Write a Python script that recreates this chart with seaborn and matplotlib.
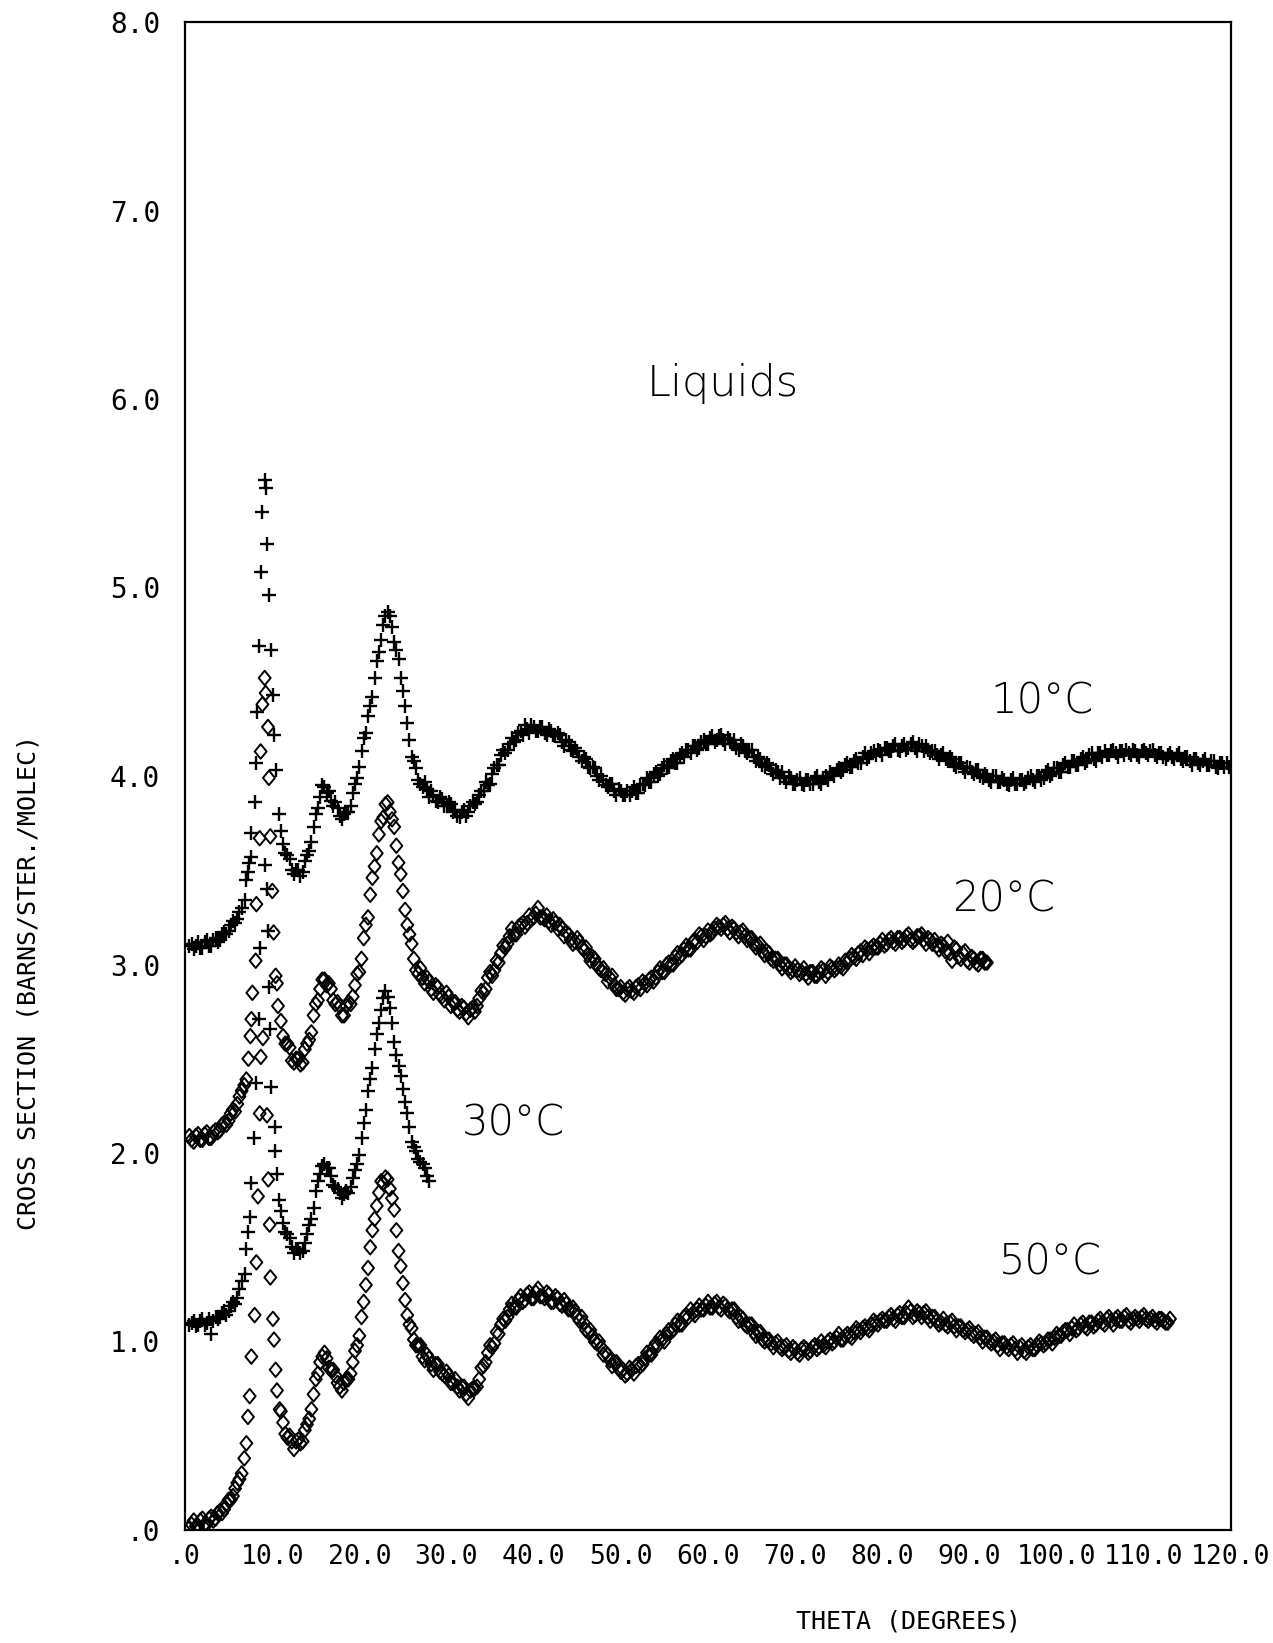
import numpy as np
import pandas as pd
import matplotlib
matplotlib.use("Agg")
import matplotlib.pyplot as plt
from matplotlib.path import Path
import seaborn as sns

# ---------------------------------------------------------------------------
# Neutron scattering cross sections of the liquid at four temperatures.
# Each curve is shifted upward by one unit (10 C: +3, 20 C: +2, 30 C: +1, 50 C: 0).
#   *_base : 0.5 .. 6.5 deg, 0.25 deg step
#   *_peak : individual points across the sharp low-angle peak
#   *_high : 11 deg .. end of run, 0.25 deg step
# ---------------------------------------------------------------------------

# ---- 10 C (plus markers) ----
cs_10_base = [3.10, 3.11, 3.08, 3.10, 3.12, 3.09, 3.09, 3.12, 3.13, 3.10, 3.10, 3.13, 3.14,
              3.12, 3.13, 3.16, 3.17, 3.16, 3.18, 3.21, 3.23, 3.22, 3.24, 3.28, 3.30]
theta_10_peak = [6.85, 7.04, 7.20, 7.35, 7.53, 7.61, 7.99, 8.11, 8.26, 8.45, 8.68, 8.88,
                 9.14, 9.25, 9.45, 9.63, 9.83, 10.09, 10.21, 10.48, 10.78]
cs_10_peak = [3.34, 3.45, 3.49, 3.54, 3.57, 3.70, 3.86, 4.07, 4.34, 4.69, 5.08, 5.40,
              5.57, 5.53, 5.23, 4.96, 4.67, 4.43, 4.22, 4.03, 3.80]
cs_10_high = [
    3.71, 3.64, 3.59, 3.58, 3.56, 3.50, 3.48, 3.50, 3.50, 3.47, 3.49, 3.55, 3.58, 3.60, 3.65, 3.73, 3.80, 3.83, 3.89, 3.95,
    3.94, 3.91, 3.92, 3.87, 3.84, 3.86, 3.83, 3.79, 3.77, 3.80, 3.81, 3.81, 3.84, 3.91, 3.96, 3.99, 4.05, 4.13, 4.20, 4.23,
    4.32, 4.37, 4.42, 4.52, 4.61, 4.66, 4.72, 4.80, 4.85, 4.87, 4.85, 4.79, 4.71, 4.67, 4.62, 4.52, 4.45, 4.37, 4.28, 4.19,
    4.10, 4.08, 4.04, 3.98, 3.96, 3.94, 3.97, 3.93, 3.89, 3.92, 3.90, 3.87, 3.86, 3.89, 3.88, 3.84, 3.84, 3.86, 3.85, 3.81,
    3.82, 3.79, 3.78, 3.81, 3.82, 3.79, 3.81, 3.84, 3.86, 3.85, 3.86, 3.90, 3.92, 3.92, 3.97, 3.95, 3.96, 4.01, 4.04, 4.06,
    4.06, 4.11, 4.14, 4.12, 4.14, 4.17, 4.20, 4.18, 4.19, 4.23, 4.24, 4.22, 4.27, 4.25, 4.23, 4.27, 4.26, 4.24, 4.24, 4.26,
    4.26, 4.23, 4.22, 4.25, 4.24, 4.22, 4.21, 4.23, 4.22, 4.18, 4.16, 4.19, 4.18, 4.14, 4.13, 4.15, 4.13, 4.10, 4.08, 4.10,
    4.09, 4.05, 4.04, 4.05, 4.04, 4.00, 3.98, 4.00, 3.98, 3.95, 3.94, 3.96, 3.96, 3.92, 3.90, 3.93, 3.92, 3.90, 3.90, 3.92,
    3.90, 3.92, 3.94, 3.91, 3.91, 3.95, 3.96, 3.95, 3.99, 3.97, 3.97, 4.01, 4.02, 4.00, 4.01, 4.04, 4.06, 4.04, 4.05, 4.08,
    4.09, 4.07, 4.07, 4.11, 4.12, 4.10, 4.14, 4.14, 4.12, 4.16, 4.16, 4.14, 4.15, 4.18, 4.19, 4.17, 4.17, 4.20, 4.21, 4.18,
    4.19, 4.21, 4.22, 4.19, 4.17, 4.20, 4.19, 4.17, 4.19, 4.15, 4.14, 4.17, 4.16, 4.13, 4.12, 4.14, 4.14, 4.10, 4.08, 4.10,
    4.09, 4.06, 4.05, 4.07, 4.06, 4.03, 4.01, 4.03, 4.02, 3.99, 4.02, 3.99, 3.97, 4.00, 3.99, 3.96, 3.96, 3.98, 3.99, 3.96,
    3.95, 3.98, 3.98, 3.96, 3.96, 3.99, 4.00, 3.97, 3.96, 3.99, 4.00, 3.98, 4.02, 4.01, 4.00, 4.03, 4.04, 4.02, 4.03, 4.06,
    4.07, 4.05, 4.05, 4.08, 4.09, 4.07, 4.07, 4.10, 4.12, 4.09, 4.10, 4.12, 4.13, 4.11, 4.14, 4.13, 4.11, 4.15, 4.15, 4.13,
    4.13, 4.16, 4.17, 4.14, 4.13, 4.16, 4.17, 4.14, 4.15, 4.17, 4.18, 4.15, 4.13, 4.17, 4.16, 4.13, 4.16, 4.14, 4.12, 4.13,
    4.13, 4.11, 4.09, 4.11, 4.12, 4.09, 4.08, 4.10, 4.09, 4.06, 4.05, 4.07, 4.07, 4.04, 4.02, 4.05, 4.04, 4.02, 4.01, 4.03,
    4.03, 4.00, 3.99, 4.01, 4.00, 3.98, 3.97, 4.00, 4.00, 3.97, 3.97, 3.99, 3.98, 3.96, 3.95, 3.98, 3.99, 3.96, 3.96, 3.98,
    3.98, 3.96, 3.97, 3.99, 4.00, 3.98, 3.97, 4.00, 4.00, 3.98, 3.99, 4.02, 4.03, 4.00, 4.01, 4.04, 4.04, 4.02, 4.02, 4.06,
    4.07, 4.05, 4.05, 4.08, 4.08, 4.06, 4.06, 4.09, 4.10, 4.07, 4.08, 4.11, 4.12, 4.09, 4.08, 4.12, 4.12, 4.10, 4.13, 4.11,
    4.11, 4.13, 4.14, 4.12, 4.10, 4.13, 4.13, 4.11, 4.14, 4.12, 4.11, 4.14, 4.13, 4.11, 4.10, 4.13, 4.14, 4.12, 4.11, 4.13,
    4.14, 4.11, 4.10, 4.12, 4.12, 4.10, 4.09, 4.11, 4.12, 4.10, 4.09, 4.11, 4.12, 4.09, 4.08, 4.10, 4.10, 4.08, 4.06, 4.09,
    4.09, 4.07, 4.06, 4.08, 4.09, 4.06, 4.06, 4.08, 4.08, 4.05, 4.04, 4.07, 4.07, 4.05, 4.07, 4.05, 4.04]

# ---- 20 C (diamond markers) ----
cs_20_base = [2.09, 2.07, 2.06, 2.09, 2.10, 2.07, 2.07, 2.10, 2.11, 2.08, 2.08, 2.11, 2.12,
              2.11, 2.12, 2.15, 2.16, 2.15, 2.17, 2.21, 2.23, 2.22, 2.26, 2.30, 2.33]
theta_20_peak = [6.80, 7.04, 7.27, 7.50, 7.61, 7.73, 8.11, 8.19, 8.57, 8.68, 8.88, 9.14,
                 9.25, 9.52, 9.63, 9.79, 10.02, 10.17, 10.40, 10.55, 10.67]
cs_20_peak = [2.36, 2.39, 2.50, 2.62, 2.71, 2.85, 3.02, 3.32, 3.67, 4.13, 4.38, 4.52,
              4.44, 4.26, 3.99, 3.68, 3.39, 3.17, 2.94, 2.90, 2.78]
cs_20_high = [
    2.70, 2.62, 2.58, 2.58, 2.56, 2.49, 2.48, 2.50, 2.50, 2.47, 2.48, 2.55, 2.58, 2.60, 2.64, 2.73, 2.79, 2.81, 2.87, 2.92,
    2.92, 2.89, 2.90, 2.87, 2.81, 2.79, 2.80, 2.78, 2.73, 2.73, 2.78, 2.80, 2.79, 2.83, 2.89, 2.95, 2.96, 3.03, 3.14, 3.21,
    3.25, 3.37, 3.46, 3.52, 3.59, 3.69, 3.76, 3.78, 3.85, 3.86, 3.81, 3.77, 3.73, 3.63, 3.54, 3.48, 3.39, 3.29, 3.21, 3.16,
    3.11, 3.03, 2.97, 2.95, 2.98, 2.93, 2.90, 2.93, 2.91, 2.87, 2.85, 2.89, 2.88, 2.84, 2.83, 2.81, 2.85, 2.83, 2.78, 2.80,
    2.80, 2.76, 2.75, 2.78, 2.77, 2.74, 2.72, 2.76, 2.77, 2.75, 2.78, 2.82, 2.86, 2.85, 2.87, 2.93, 2.96, 2.94, 2.97, 3.02,
    3.01, 3.06, 3.10, 3.09, 3.11, 3.15, 3.19, 3.16, 3.16, 3.20, 3.21, 3.22, 3.20, 3.22, 3.26, 3.24, 3.25, 3.27, 3.30, 3.25,
    3.25, 3.24, 3.26, 3.23, 3.21, 3.24, 3.22, 3.19, 3.21, 3.19, 3.15, 3.17, 3.16, 3.13, 3.11, 3.12, 3.14, 3.12, 3.09, 3.08,
    3.09, 3.05, 3.02, 3.04, 3.03, 3.00, 2.98, 2.97, 2.98, 2.95, 2.91, 2.93, 2.94, 2.89, 2.87, 2.87, 2.88, 2.85, 2.84, 2.87,
    2.88, 2.86, 2.85, 2.88, 2.89, 2.87, 2.91, 2.90, 2.89, 2.92, 2.93, 2.91, 2.93, 2.96, 2.98, 2.96, 2.96, 3.00, 3.01, 3.00,
    3.00, 3.04, 3.06, 3.04, 3.05, 3.08, 3.10, 3.08, 3.08, 3.12, 3.13, 3.12, 3.16, 3.15, 3.13, 3.15, 3.18, 3.16, 3.17, 3.19,
    3.21, 3.20, 3.19, 3.21, 3.22, 3.19, 3.17, 3.20, 3.19, 3.17, 3.15, 3.17, 3.18, 3.15, 3.13, 3.14, 3.14, 3.11, 3.09, 3.10,
    3.11, 3.07, 3.05, 3.07, 3.06, 3.03, 3.02, 3.03, 3.03, 3.00, 2.98, 3.00, 3.00, 2.98, 2.96, 2.97, 2.99, 2.97, 2.95, 2.96,
    2.98, 2.95, 2.93, 2.96, 2.96, 2.94, 2.94, 2.96, 2.98, 2.97, 2.94, 2.96, 2.99, 2.98, 2.97, 2.98, 3.00, 2.99, 2.98, 3.02,
    3.01, 3.03, 3.05, 3.04, 3.03, 3.06, 3.07, 3.05, 3.09, 3.08, 3.06, 3.09, 3.10, 3.09, 3.09, 3.11, 3.13, 3.10, 3.11, 3.13,
    3.14, 3.12, 3.11, 3.14, 3.14, 3.12, 3.13, 3.15, 3.16, 3.13, 3.12, 3.13, 3.15, 3.15, 3.16, 3.13, 3.11, 3.14, 3.13, 3.11,
    3.13, 3.10, 3.08, 3.11, 3.10, 3.07, 3.12, 3.06, 3.02, 3.09, 3.08, 3.04, 3.03, 3.06, 3.07, 3.02, 3.01, 3.04, 3.03, 3.01,
    3.00, 3.03, 3.03, 3.01, 3.01]

# ---- 30 C (plus markers) ----
cs_30_base = [1.09, 1.10, 1.11, 1.08, 1.09, 1.11, 1.12, 1.09, 1.10, 1.12, 1.04, 1.11, 1.13,
              1.12, 1.13, 1.15, 1.16, 1.14, 1.16, 1.19, 1.21, 1.20, 1.23, 1.28, 1.32]
theta_30_peak = [6.85, 7.04, 7.22, 7.42, 7.61, 7.95, 8.20, 8.45, 8.57, 9.14, 9.40, 9.52,
                 9.60, 9.71, 9.91, 10.29, 10.37, 10.60, 10.75]
cs_30_peak = [1.36, 1.49, 1.58, 1.66, 1.84, 2.08, 2.37, 2.71, 3.09, 3.53, 3.40, 3.18,
              2.88, 2.66, 2.35, 2.14, 2.01, 1.89, 1.75]
cs_30_high = [
    1.69, 1.63, 1.58, 1.57, 1.55, 1.50, 1.47, 1.49, 1.49, 1.47, 1.48, 1.52, 1.57, 1.62, 1.65, 1.71, 1.80, 1.85, 1.89, 1.93,
    1.94, 1.92, 1.92, 1.88, 1.83, 1.82, 1.81, 1.79, 1.76, 1.78, 1.80, 1.79, 1.82, 1.87, 1.91, 1.94, 1.99, 2.08, 2.16, 2.23,
    2.33, 2.39, 2.45, 2.55, 2.63, 2.69, 2.76, 2.82, 2.86, 2.83, 2.77, 2.69, 2.59, 2.52, 2.46, 2.41, 2.34, 2.27, 2.21, 2.14,
    2.06, 2.03, 2.01, 1.97, 1.95, 1.94, 1.92, 1.88, 1.85]

# ---- 50 C (diamond markers) ----
cs_50_base = [0.01, 0.03, 0.05, 0.02, 0.02, 0.05, 0.06, 0.03, 0.03, 0.06, 0.07, 0.05, 0.06,
              0.09, 0.10, 0.09, 0.11, 0.14, 0.16, 0.16, 0.18, 0.22, 0.25, 0.27, 0.30]
theta_50_peak = [6.80, 7.04, 7.22, 7.42, 7.61, 7.99, 8.19, 8.37, 8.57, 8.70, 8.94, 9.40,
                 9.55, 9.71, 9.79, 10.09, 10.21, 10.40, 10.55, 10.86]
cs_50_peak = [0.38, 0.46, 0.60, 0.71, 0.92, 1.14, 1.42, 1.77, 2.21, 2.51, 2.61, 2.20,
              1.86, 1.62, 1.34, 1.12, 1.01, 0.85, 0.74, 0.64]
cs_50_high = [
    0.63, 0.57, 0.51, 0.49, 0.50, 0.47, 0.43, 0.47, 0.48, 0.46, 0.47, 0.53, 0.56, 0.59, 0.64, 0.72, 0.80, 0.83, 0.89, 0.92,
    0.94, 0.91, 0.86, 0.85, 0.85, 0.82, 0.78, 0.76, 0.74, 0.78, 0.80, 0.80, 0.83, 0.89, 0.95, 0.98, 1.03, 1.13, 1.21, 1.30,
    1.39, 1.50, 1.59, 1.65, 1.72, 1.79, 1.85, 1.84, 1.87, 1.86, 1.81, 1.76, 1.70, 1.59, 1.48, 1.40, 1.31, 1.22, 1.14, 1.09,
    1.07, 1.01, 0.98, 0.98, 0.98, 0.92, 0.90, 0.93, 0.91, 0.88, 0.85, 0.88, 0.88, 0.84, 0.83, 0.82, 0.84, 0.82, 0.78, 0.78,
    0.80, 0.76, 0.74, 0.76, 0.76, 0.72, 0.70, 0.74, 0.75, 0.75, 0.76, 0.80, 0.86, 0.87, 0.89, 0.94, 0.98, 0.97, 0.99, 1.05,
    1.04, 1.09, 1.12, 1.11, 1.13, 1.17, 1.20, 1.18, 1.18, 1.22, 1.24, 1.21, 1.22, 1.25, 1.26, 1.23, 1.23, 1.26, 1.28, 1.24,
    1.24, 1.23, 1.26, 1.25, 1.21, 1.21, 1.24, 1.23, 1.20, 1.19, 1.22, 1.20, 1.17, 1.17, 1.18, 1.16, 1.13, 1.11, 1.13, 1.10,
    1.06, 1.05, 1.06, 1.03, 1.00, 0.99, 1.00, 0.97, 0.93, 0.94, 0.93, 0.90, 0.87, 0.89, 0.89, 0.86, 0.84, 0.85, 0.82, 0.83,
    0.86, 0.85, 0.83, 0.87, 0.88, 0.87, 0.88, 0.91, 0.94, 0.93, 0.93, 0.97, 0.99, 0.98, 1.02, 1.01, 1.00, 1.04, 1.06, 1.05,
    1.06, 1.09, 1.11, 1.09, 1.09, 1.13, 1.14, 1.13, 1.17, 1.15, 1.14, 1.17, 1.19, 1.17, 1.17, 1.19, 1.21, 1.18, 1.18, 1.20,
    1.21, 1.18, 1.17, 1.20, 1.19, 1.17, 1.16, 1.17, 1.17, 1.13, 1.11, 1.13, 1.12, 1.09, 1.08, 1.09, 1.09, 1.05, 1.03, 1.05,
    1.05, 1.01, 1.00, 1.01, 1.01, 0.99, 0.97, 0.99, 1.00, 0.97, 0.96, 0.97, 0.98, 0.95, 0.94, 0.97, 0.96, 0.94, 0.93, 0.96,
    0.97, 0.96, 0.94, 0.95, 0.97, 0.98, 0.96, 0.97, 1.00, 0.98, 0.97, 1.00, 1.01, 0.99, 1.00, 1.02, 1.04, 1.01, 1.01, 1.03,
    1.04, 1.03, 1.02, 1.05, 1.07, 1.06, 1.05, 1.07, 1.08, 1.07, 1.06, 1.09, 1.11, 1.10, 1.09, 1.11, 1.12, 1.11, 1.11, 1.13,
    1.14, 1.12, 1.11, 1.14, 1.15, 1.13, 1.13, 1.15, 1.18, 1.16, 1.13, 1.14, 1.16, 1.15, 1.13, 1.15, 1.16, 1.13, 1.11, 1.13,
    1.13, 1.11, 1.09, 1.10, 1.12, 1.09, 1.08, 1.10, 1.11, 1.08, 1.06, 1.08, 1.08, 1.06, 1.05, 1.06, 1.07, 1.04, 1.03, 1.04,
    1.05, 1.02, 1.00, 1.02, 1.02, 1.00, 0.99, 1.00, 1.01, 0.98, 0.96, 0.99, 0.99, 0.97, 0.96, 0.98, 0.99, 0.96, 0.94, 0.97,
    0.98, 0.95, 0.94, 0.97, 0.98, 0.96, 0.96, 0.98, 1.00, 0.99, 0.98, 0.99, 1.01, 1.01, 0.99, 1.02, 1.04, 1.03, 1.03, 1.05,
    1.06, 1.06, 1.04, 1.07, 1.09, 1.06, 1.07, 1.09, 1.10, 1.08, 1.07, 1.10, 1.10, 1.08, 1.09, 1.11, 1.12, 1.10, 1.09, 1.12,
    1.13, 1.11, 1.09, 1.12, 1.13, 1.11, 1.11, 1.13, 1.14, 1.11, 1.10, 1.12, 1.13, 1.12, 1.11, 1.13, 1.14, 1.12, 1.11, 1.12,
    1.13, 1.11, 1.10, 1.12, 1.12, 1.11, 1.10, 1.10, 1.12]

# Last scan angle of each run
scan_end = {"10": 120.0, "20": 92.0, "30": 28.0, "50": 113.0}

x_ticks = [0, 10, 20, 30, 40, 50, 60, 70, 80, 90, 100, 110, 120]
x_tick_labels = [".0", "10.0", "20.0", "30.0", "40.0", "50.0", "60.0",
                 "70.0", "80.0", "90.0", "100.0", "110.0", "120.0"]
y_ticks = [0, 1, 2, 3, 4, 5, 6, 7, 8]
y_tick_labels = [".0", "1.0", "2.0", "3.0", "4.0", "5.0", "6.0", "7.0", "8.0"]

# curve labels: (text, theta, cross section)
curve_labels = [("10°C", 98.3, 4.40), ("20°C", 93.9, 3.35),
                ("30°C", 37.7, 2.16), ("50°C", 99.3, 1.42)]

STEP = 0.25


def run_frame(tag, cs_base, theta_peak, cs_peak, cs_high):
    theta_base = np.arange(0.5, 6.5 + STEP / 2, STEP)
    theta_high = np.arange(11.0, scan_end[tag] + STEP / 2, STEP)
    assert len(theta_base) == len(cs_base), (tag, "base", len(cs_base))
    assert len(theta_peak) == len(cs_peak), (tag, "peak")
    assert len(theta_high) == len(cs_high), (tag, len(theta_high), len(cs_high))
    return pd.DataFrame({
        "theta": np.concatenate([theta_base, theta_peak, theta_high]),
        "cross_section": np.concatenate([cs_base, cs_peak, cs_high]),
        "run": tag,
    })


data = pd.concat([
    run_frame("10", cs_10_base, theta_10_peak, cs_10_peak, cs_10_high),
    run_frame("20", cs_20_base, theta_20_peak, cs_20_peak, cs_20_high),
    run_frame("30", cs_30_base, theta_30_peak, cs_30_peak, cs_30_high),
    run_frame("50", cs_50_base, theta_50_peak, cs_50_peak, cs_50_high),
], ignore_index=True)

sns.set_theme(style="white")
plt.rcParams["font.family"] = ["DejaVu Sans"]

W, H = 1273, 1643
fig = plt.figure(figsize=(W / 100, H / 100), dpi=100)
ax = fig.add_axes([185 / W, 1 - 1530 / H, (1231 - 185) / W, (1530 - 22) / H])

# slightly tall diamond used by the plotter
diamond = Path([(0, 1), (0.82, 0), (0, -1), (-0.82, 0), (0, 1)],
               [Path.MOVETO, Path.LINETO, Path.LINETO, Path.LINETO, Path.CLOSEPOLY])

for tag in ["10", "30"]:
    sns.scatterplot(data=data[data["run"] == tag], x="theta", y="cross_section",
                    marker="+", s=115, color="black", linewidth=1.7, ax=ax,
                    legend=False, zorder=3)
for tag in ["20", "50"]:
    sns.scatterplot(data=data[data["run"] == tag], x="theta", y="cross_section",
                    marker=diamond, s=110, facecolor="none", edgecolor="black",
                    linewidth=1.4, ax=ax, legend=False, zorder=3)

ax.set_xlim(0, 120)
ax.set_ylim(0, 8)
ax.set_xlabel("")
ax.set_ylabel("")

ax.set_xticks(x_ticks)
ax.set_xticklabels(x_tick_labels, fontdict={"family": "DejaVu Sans Mono", "size": 19})
ax.set_yticks(y_ticks)
ax.set_yticklabels(y_tick_labels, fontdict={"family": "DejaVu Sans Mono", "size": 20})
ax.tick_params(axis="x", direction="in", length=16, width=1.4, pad=10, colors="black")
ax.tick_params(axis="y", direction="in", length=12, width=1.4, pad=18, colors="black")
ax.grid(False)
ax.set_facecolor("white")
for side in ax.spines.values():
    side.set_visible(True)
    side.set_color("black")
    side.set_linewidth(1.6)

label_font = {"family": "DejaVu Sans Mono", "size": 18, "color": "black"}
fig.text(29 / W, 1 - 982 / H, "CROSS SECTION (BARNS/STER./MOLEC)",
         rotation=90, ha="center", va="center", fontdict=label_font)
fig.text(909 / W, 1 - 1622 / H, "THETA (DEGREES)",
         ha="center", va="center", fontdict=label_font)

ax.text(61.7, 6.08, "Liquids", ha="center", va="center",
        fontsize=31, fontweight="light", color="black")
for text, tx, ty in curve_labels:
    ax.text(tx, ty, text, ha="center", va="center",
            fontsize=30, fontweight="light", color="black")

fig.savefig("out.png", dpi=100, facecolor="white")
